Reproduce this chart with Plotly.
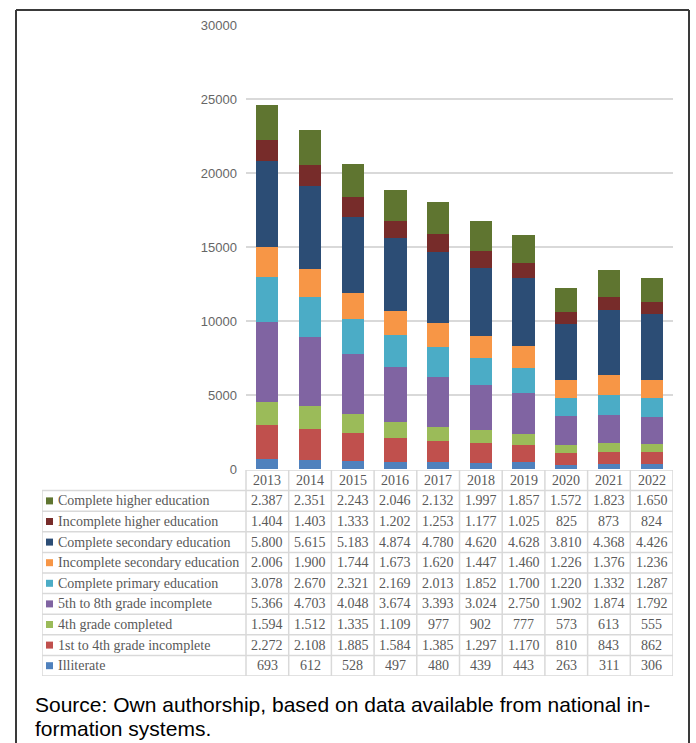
import plotly.graph_objects as go

# ---------------- data ----------------
years = ["2013", "2014", "2015", "2016", "2017", "2018", "2019", "2020", "2021", "2022"]

illiterate = [693, 612, 528, 497, 480, 439, 443, 263, 311, 306]
first_to_4th_incomplete = [2272, 2108, 1885, 1584, 1385, 1297, 1170, 810, 843, 862]
fourth_completed = [1594, 1512, 1335, 1109, 977, 902, 777, 573, 613, 555]
fifth_to_8th_incomplete = [5366, 4703, 4048, 3674, 3393, 3024, 2750, 1902, 1874, 1792]
complete_primary = [3078, 2670, 2321, 2169, 2013, 1852, 1700, 1220, 1332, 1287]
incomplete_secondary = [2006, 1900, 1744, 1673, 1620, 1447, 1460, 1226, 1376, 1236]
complete_secondary = [5800, 5615, 5183, 4874, 4780, 4620, 4628, 3810, 4368, 4426]
incomplete_higher = [1404, 1403, 1333, 1202, 1253, 1177, 1025, 825, 873, 824]
complete_higher = [2387, 2351, 2243, 2046, 2132, 1997, 1857, 1572, 1823, 1650]

# stacking order bottom -> top
series_names = [
    "Illiterate",
    "1st to 4th grade incomplete",
    "4th grade completed",
    "5th to 8th grade incomplete",
    "Complete primary education",
    "Incomplete secondary education",
    "Complete secondary education",
    "Incomplete higher education",
    "Complete higher education",
]
series_values = [
    illiterate, first_to_4th_incomplete, fourth_completed, fifth_to_8th_incomplete,
    complete_primary, incomplete_secondary, complete_secondary, incomplete_higher,
    complete_higher,
]
series_colors = [
    "#4F81BD", "#C0504D", "#9BBB59", "#8064A2", "#4BACC6",
    "#F79646", "#2C4D75", "#772C2A", "#5F7530",
]

y_ticks = [0, 5000, 10000, 15000, 20000, 25000, 30000]
caption_lines = [
    "Source: Own authorship, based on data available from national in-",
    "formation systems.",
]

# ---------------- layout geometry (pixels) ----------------
W, H = 696, 743
ML, MR, MT, MB = 42, 23, 25, 67
PW = W - ML - MR
PH = H - MT - MB
TABLE_LEFT_PX = 42
YEAR_COL_LEFT_PX = 246
BAR_ZERO_PX = 469
TABLE_TOP_PX = 470
TABLE_BOTTOM_PX = 676


def px_to_paper_x(px):
    return (px - ML) / PW


def px_to_paper_y(py):
    return (H - MB - py) / PH


n_years = len(years)
unit_px = (W - MR - YEAR_COL_LEFT_PX) / n_years
legend_units = (YEAR_COL_LEFT_PX - TABLE_LEFT_PX) / unit_px
x2_left = -0.5 - legend_units
n_rows = len(series_names) + 1

GRID = "#d9d9d9"
TXT = "#595959"
SERIF = "Liberation Serif"

fig = go.Figure()

for name, vals, col in zip(series_names, series_values, series_colors):
    fig.add_trace(go.Bar(
        x=years, y=vals, name=name, marker=dict(color=col, line=dict(width=0)),
        width=0.52, xaxis="x", yaxis="y", showlegend=False,
    ))

# invisible trace to activate table axes
fig.add_trace(go.Scatter(x=[x2_left, 9.5], y=[0, n_rows], xaxis="x2", yaxis="y2",
                         mode="markers", marker=dict(opacity=0), showlegend=False,
                         hoverinfo="skip"))

shapes = []
annotations = []

# table grid
line = dict(color=GRID, width=1.5)
shapes.append(dict(type="line", xref="x2", yref="y2", x0=-0.5, x1=9.5, y0=0, y1=0, line=line))
for r in range(1, n_rows + 1):
    shapes.append(dict(type="line", xref="x2", yref="y2", x0=x2_left, x1=9.5, y0=r, y1=r, line=line))
shapes.append(dict(type="line", xref="x2", yref="y2", x0=x2_left, x1=x2_left, y0=1, y1=n_rows, line=line))
for k in range(n_years + 1):
    shapes.append(dict(type="line", xref="x2", yref="y2", x0=-0.5 + k, x1=-0.5 + k, y0=0, y1=n_rows, line=line))

# header years
for i, yr in enumerate(years):
    annotations.append(dict(x=i, y=0.5, xref="x2", yref="y2", text=yr, showarrow=False,
                            font=dict(family=SERIF, size=14, color=TXT)))

# rows (top: last series)
for r, idx in enumerate(reversed(range(len(series_names)))):
    row_c = r + 1.5
    shapes.append(dict(type="rect", xref="x2", yref="y2", xsizemode="pixel", ysizemode="pixel",
                       xanchor=x2_left, x0=4, x1=11, yanchor=row_c, y0=-3.5, y1=3.5,
                       fillcolor=series_colors[idx], line=dict(width=0)))
    annotations.append(dict(x=x2_left, y=row_c, xref="x2", yref="y2", text=series_names[idx],
                            showarrow=False, xanchor="left", xshift=14,
                            font=dict(family=SERIF, size=14, color=TXT)))
    for i, v in enumerate(series_values[idx]):
        annotations.append(dict(x=i, y=row_c, xref="x2", yref="y2",
                                text=f"{v:,}".replace(",", "."), showarrow=False,
                                font=dict(family=SERIF, size=14, color=TXT)))

# outer frame
frame = dict(color="#3a3a3a", width=2)
fx0, fx1 = px_to_paper_x(16), px_to_paper_x(689)
fy0, fy1 = px_to_paper_y(743), px_to_paper_y(10)
shapes.append(dict(type="line", xref="paper", yref="paper", x0=fx0, x1=fx0, y0=fy0, y1=fy1, line=frame))
shapes.append(dict(type="line", xref="paper", yref="paper", x0=fx1, x1=fx1, y0=fy0, y1=fy1, line=frame))
shapes.append(dict(type="line", xref="paper", yref="paper", x0=fx0, x1=fx1, y0=fy1, y1=fy1, line=frame))

# caption
for j, (txt, cy) in enumerate(zip(caption_lines, [704, 728])):
    annotations.append(dict(x=px_to_paper_x(33), y=px_to_paper_y(cy), xref="paper", yref="paper",
                            text=txt, showarrow=False, xanchor="left", yanchor="middle",
                            font=dict(family="Liberation Sans", size=21, color="#000000")))

fig.update_layout(
    width=W, height=H, margin=dict(l=ML, r=MR, t=MT, b=MB),
    paper_bgcolor="white", plot_bgcolor="white",
    barmode="stack", bargap=0.48,
    xaxis=dict(domain=[px_to_paper_x(YEAR_COL_LEFT_PX), 1], range=[-0.5, 9.5], type="category",
               showticklabels=False, showgrid=False, zeroline=False, showline=False, anchor="y"),
    yaxis=dict(domain=[px_to_paper_y(BAR_ZERO_PX), 1], range=[0, 30000], tickvals=y_ticks,
               tickformat="d", showgrid=True, gridcolor=GRID, gridwidth=1.5, zeroline=False,
               showline=False, ticks="", ticklabelstandoff=8,
               tickfont=dict(family="Liberation Sans", size=13, color="#666666"), anchor="x"),
    xaxis2=dict(domain=[0, 1], range=[x2_left, 9.5], visible=False, anchor="y2"),
    yaxis2=dict(domain=[px_to_paper_y(TABLE_BOTTOM_PX), px_to_paper_y(TABLE_TOP_PX)],
                range=[n_rows, 0], visible=False, anchor="x2"),
    shapes=shapes, annotations=annotations,
)

fig.write_html("out.html")
